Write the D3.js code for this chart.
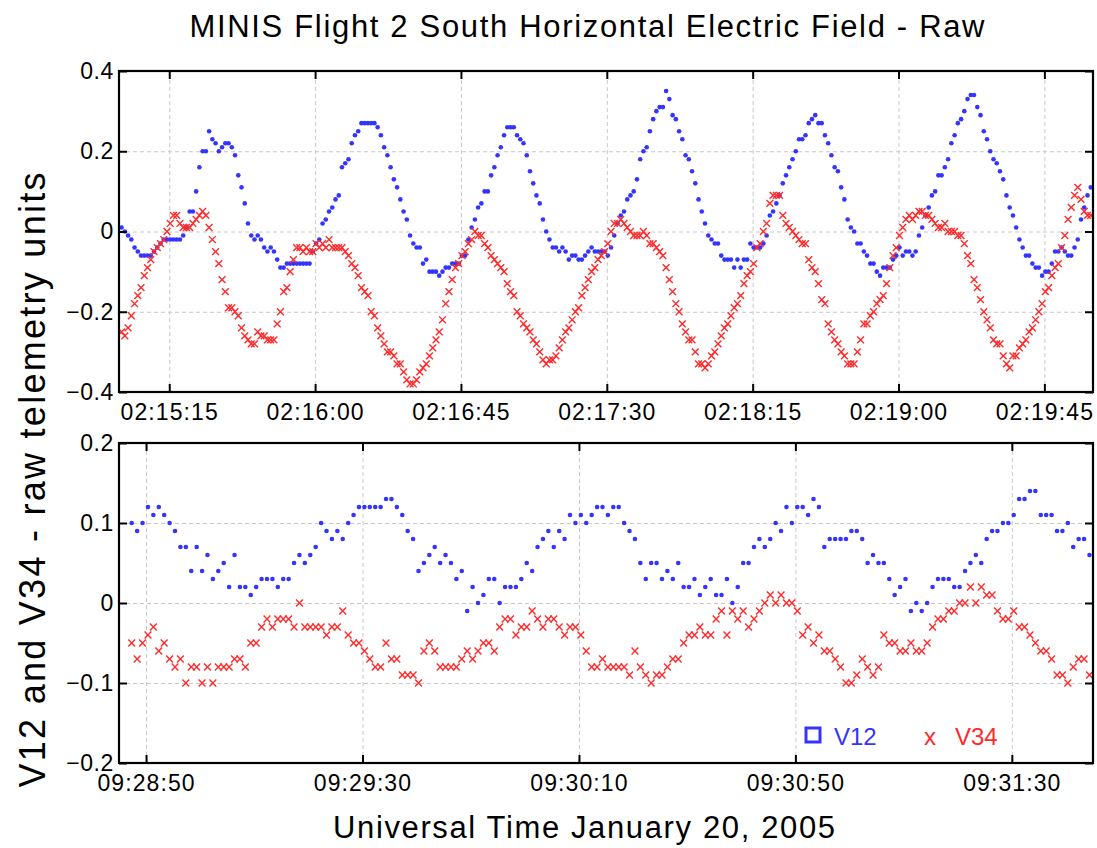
<!DOCTYPE html>
<html>
<head>
<meta charset="utf-8">
<script src="https://cdn.jsdelivr.net/npm/d3@7"></script>
<style>
  body { margin: 0; background: #fff; }
  text { font-family: "Liberation Sans", Arial, Helvetica, sans-serif; }
</style>
</head>
<body>
<div id="chart"></div>
<script>
// ---- data (raw telemetry units), one sample per second ----
const topV12 = [
  0.01,0,-0.01,-0.02,-0.04,-0.05,-0.06,-0.06,-0.06,-0.06,-0.05,-0.04,-0.03,-0.02,-0.02,-0.02,-0.02,-0.02,-0.02,-0.01,
  0.01,0.05,0.05,0.10,0.16,0.20,0.20,0.25,0.23,0.22,0.20,0.21,0.22,0.22,0.21,0.19,0.14,0.11,0.07,0.02,
  -0.01,-0.02,-0.01,-0.02,-0.04,-0.05,-0.04,-0.05,-0.07,-0.09,-0.09,-0.08,-0.08,-0.08,-0.08,-0.08,-0.08,-0.08,-0.08,-0.05,
  -0.03,-0.02,0.02,0.03,0.05,0.06,0.08,0.09,0.16,0.17,0.18,0.22,0.24,0.25,0.27,0.27,0.27,0.27,0.27,0.26,
  0.24,0.21,0.19,0.16,0.13,0.11,0.08,0.05,0.03,-0.01,-0.03,-0.04,-0.04,-0.08,-0.07,-0.10,-0.10,-0.10,-0.11,-0.10,
  -0.09,-0.09,-0.08,-0.08,-0.08,-0.06,-0.06,-0.02,0.01,0.03,0.06,0.07,0.10,0.10,0.14,0.16,0.19,0.21,0.24,0.26,
  0.26,0.26,0.24,0.23,0.22,0.19,0.15,0.12,0.09,0.07,0.03,0,-0.02,-0.04,-0.04,-0.05,-0.04,-0.05,-0.07,-0.06,
  -0.06,-0.07,-0.07,-0.06,-0.05,-0.04,-0.05,-0.05,-0.05,-0.05,-0.06,-0.04,-0.01,0.02,0.04,0.05,0.08,0.09,0.10,0.13,
  0.18,0.20,0.21,0.25,0.28,0.30,0.31,0.31,0.35,0.33,0.29,0.28,0.25,0.23,0.19,0.18,0.15,0.12,0.08,0.05,
  0.02,-0.01,-0.02,-0.03,-0.03,-0.06,-0.07,-0.07,-0.07,-0.09,-0.07,-0.09,-0.07,-0.07,-0.03,-0.04,-0.04,-0.04,-0.03,-0.01,
  0.04,0.05,0.07,0.09,0.12,0.14,0.16,0.18,0.20,0.23,0.23,0.24,0.27,0.28,0.29,0.27,0.27,0.24,0.22,0.19,
  0.16,0.15,0.11,0.08,0.03,0.01,0,-0.03,-0.03,-0.05,-0.06,-0.08,-0.08,-0.10,-0.11,-0.09,-0.09,-0.09,-0.07,-0.06,
  -0.04,-0.06,-0.05,-0.05,-0.06,-0.05,-0.01,0.01,0.04,0.06,0.09,0.10,0.14,0.14,0.16,0.18,0.22,0.24,0.27,0.28,
  0.30,0.33,0.34,0.34,0.31,0.29,0.25,0.23,0.20,0.18,0.17,0.15,0.13,0.09,0.06,0.04,0.01,-0.02,-0.04,-0.06,
  -0.06,-0.08,-0.09,-0.09,-0.11,-0.10,-0.10,-0.08,-0.05,-0.05,-0.04,-0.05,-0.06,-0.06,-0.04,-0.02,0.03,0.06,0.09,0.11
];
const topV34 = [
  -0.25,-0.26,-0.24,-0.21,-0.18,-0.16,-0.14,-0.11,-0.09,-0.07,-0.05,-0.04,-0.03,-0.02,0,0.02,0.04,0.04,0.02,0.01,
  0.01,0.01,0.02,0.03,0.04,0.05,0.04,0.01,-0.02,-0.05,-0.08,-0.12,-0.15,-0.19,-0.19,-0.20,-0.21,-0.24,-0.26,-0.27,
  -0.28,-0.28,-0.25,-0.26,-0.26,-0.27,-0.27,-0.27,-0.23,-0.20,-0.15,-0.14,-0.10,-0.07,-0.04,-0.04,-0.05,-0.04,-0.05,-0.05,
  -0.03,-0.04,-0.03,-0.04,-0.02,-0.04,-0.04,-0.04,-0.04,-0.05,-0.06,-0.08,-0.09,-0.11,-0.14,-0.15,-0.16,-0.20,-0.21,-0.24,
  -0.26,-0.28,-0.30,-0.30,-0.31,-0.33,-0.33,-0.35,-0.37,-0.38,-0.38,-0.37,-0.35,-0.34,-0.33,-0.31,-0.29,-0.27,-0.25,-0.22,
  -0.18,-0.15,-0.12,-0.09,-0.08,-0.06,-0.05,-0.03,-0.02,0,-0.01,-0.01,-0.03,-0.04,-0.06,-0.07,-0.08,-0.09,-0.10,-0.13,
  -0.15,-0.16,-0.20,-0.21,-0.23,-0.24,-0.25,-0.27,-0.28,-0.30,-0.32,-0.33,-0.32,-0.32,-0.31,-0.29,-0.27,-0.25,-0.24,-0.22,
  -0.20,-0.19,-0.16,-0.14,-0.12,-0.10,-0.09,-0.07,-0.06,-0.05,-0.03,0,0.02,0.02,0.03,0.02,0.01,0,-0.01,-0.01,
  -0.01,0,-0.01,-0.03,-0.03,-0.04,-0.05,-0.06,-0.09,-0.12,-0.15,-0.18,-0.20,-0.23,-0.25,-0.27,-0.27,-0.30,-0.33,-0.33,
  -0.34,-0.33,-0.31,-0.30,-0.28,-0.26,-0.24,-0.23,-0.21,-0.19,-0.18,-0.16,-0.13,-0.11,-0.10,-0.08,-0.04,-0.03,0,0.02,
  0.07,0.09,0.09,0.09,0.04,0.02,0.01,0,-0.01,-0.02,-0.03,-0.03,-0.07,-0.09,-0.10,-0.13,-0.17,-0.18,-0.23,-0.25,
  -0.27,-0.28,-0.30,-0.31,-0.33,-0.33,-0.33,-0.30,-0.27,-0.23,-0.23,-0.21,-0.20,-0.18,-0.17,-0.16,-0.13,-0.09,-0.06,-0.04,
  -0.01,0.01,0.03,0.04,0.03,0.04,0.05,0.05,0.04,0.04,0.03,0.02,0.01,0.01,0.02,0,0,0,-0.01,-0.01,
  -0.03,-0.06,-0.08,-0.12,-0.14,-0.17,-0.20,-0.22,-0.24,-0.27,-0.28,-0.28,-0.31,-0.33,-0.34,-0.31,-0.31,-0.29,-0.28,-0.27,
  -0.25,-0.24,-0.22,-0.20,-0.18,-0.15,-0.14,-0.11,-0.09,-0.08,-0.04,-0.01,0.03,0.06,0.09,0.11,0.08,0.05,0.04,0.04
];
const bottomV12 = [
  0.10,0.09,0.10,0.12,0.11,0.12,0.11,0.10,0.09,0.07,0.07,0.04,0.07,0.04,0.06,0.03,0.04,0.05,0.02,0.06,
  0.02,0.02,0.01,0.02,0.03,0.03,0.03,0.02,0.03,0.03,0.05,0.06,0.05,0.06,0.07,0.10,0.09,0.08,0.09,0.08,
  0.10,0.11,0.12,0.12,0.12,0.12,0.12,0.13,0.13,0.12,0.11,0.09,0.08,0.04,0.05,0.06,0.07,0.05,0.06,0.05,
  0.03,0.04,-0.01,0.02,0,0.01,0.03,0.03,0,0.02,0.02,0.02,0.03,0.05,0.04,0.07,0.08,0.09,0.07,0.09,
  0.08,0.11,0.10,0.11,0.10,0.11,0.12,0.12,
  0.11,0.12,0.12,0.10,0.09,0.08,0.05,0.03,0.05,0.05,0.03,0.04,0.03,0.05,0.02,0.02,0.03,0.01,0.02,0.03,
  0.01,0.01,0.03,0,0.02,0.05,0.05,0.07,0.08,0.07,0.08,0.10,0.09,0.12,0.10,0.12,0.12,0.11,0.13,0.12,
  0.07,0.08,0.08,0.08,0.08,0.09,0.09,0.08,0.05,0.06,0.05,0.05,0.03,0.01,0.02,0.03,-0.01,0,-0.01,0,
  0.02,0.03,0.03,0.03,0.02,0.02,0.04,0.05,0.06,0.05,0.08,0.09,0.09,0.10,0.10,0.11,0.13,0.13,0.14,0.14,
  0.11,0.11,0.11,0.09,0.09,0.10,0.07,0.08,0.08,0.06
];
const bottomV34 = [
  -0.05,-0.07,-0.05,-0.04,-0.03,-0.06,-0.05,-0.07,-0.08,-0.07,-0.10,-0.08,-0.08,-0.10,-0.08,-0.10,-0.08,-0.08,-0.08,-0.07,
  -0.07,-0.08,-0.05,-0.05,-0.03,-0.02,-0.03,-0.02,-0.02,-0.02,-0.03,0,-0.03,-0.03,-0.03,-0.03,-0.04,-0.03,-0.03,-0.01,
  -0.04,-0.05,-0.05,-0.06,-0.07,-0.08,-0.08,-0.05,-0.07,-0.07,-0.09,-0.09,-0.09,-0.10,-0.06,-0.05,-0.06,-0.08,-0.08,-0.08,
  -0.08,-0.07,-0.06,-0.07,-0.06,-0.05,-0.05,-0.06,-0.03,-0.02,-0.02,-0.04,-0.03,-0.03,-0.01,-0.02,-0.03,-0.02,-0.02,-0.03,
  -0.04,-0.03,-0.03,-0.04,-0.06,-0.08,-0.08,-0.07,
  -0.08,-0.08,-0.08,-0.08,-0.09,-0.06,-0.08,-0.09,-0.10,-0.09,-0.09,-0.08,-0.07,-0.07,-0.05,-0.04,-0.04,-0.03,-0.04,-0.04,
  -0.02,-0.01,-0.04,-0.01,-0.02,-0.01,-0.03,-0.02,-0.01,0,0.01,0,0.01,0,0,-0.01,-0.04,-0.03,-0.05,-0.04,
  -0.06,-0.06,-0.07,-0.08,-0.10,-0.10,-0.09,-0.07,-0.08,-0.09,-0.08,-0.04,-0.05,-0.05,-0.06,-0.06,-0.05,-0.06,-0.06,-0.05,
  -0.03,-0.02,-0.02,-0.01,-0.01,0,0,0.02,0,0.02,0.01,0.01,-0.01,-0.02,-0.02,-0.01,-0.03,-0.03,-0.04,-0.05,
  -0.06,-0.06,-0.07,-0.09,-0.09,-0.10,-0.08,-0.07,-0.07,-0.09
];

// first sample time of each pass, sampling step, axis ranges and tick labels
const topFirstSample = "02:15:00.300";
const bottomFirstSample = "09:28:47.350";
const sampleStepMs = 1000;
const topTimeRange = ["02:14:59.500", "02:20:00.000"];
const bottomTimeRange = ["09:28:45.000", "09:31:45.000"];
const topTimeTicks = ["02:15:15", "02:16:00", "02:16:45", "02:17:30", "02:18:15", "02:19:00", "02:19:45"];
const bottomTimeTicks = ["09:28:50", "09:29:30", "09:30:10", "09:30:50", "09:31:30"];
const topValueTicks = [-0.4, -0.2, 0, 0.2, 0.4];
const bottomValueTicks = [-0.2, -0.1, 0, 0.1, 0.2];

const W = 1097, H = 848;
const blue = "#3434ff";
const red = "#ff2a2a";

const parseMs = d3.utcParse("%H:%M:%S.%L");
const parseS = d3.utcParse("%H:%M:%S");

const svg = d3.select("#chart")
  .append("svg")
  .attr("width", W)
  .attr("height", H);

function drawPanel(id, box, firstSample, timeRange, timeTicks, valueTicks, v12, v34) {
  const x = d3.scaleUtc()
    .domain(timeRange.map(parseMs))
    .range([box.left, box.right]);
  const y = d3.scaleLinear()
    .domain([valueTicks[0], valueTicks[valueTicks.length - 1]])
    .range([box.bottom, box.top]);

  const t0 = +parseMs(firstSample);
  const timeOf = i => new Date(t0 + i * sampleStepMs);
  const tickDates = timeTicks.map(parseS);
  const ih = box.bottom - box.top;
  const iw = box.right - box.left;

  const g = svg.append("g");

  // dashed grid
  g.append("g")
    .attr("transform", `translate(0,${box.bottom})`)
    .call(d3.axisBottom(x).tickValues(tickDates).tickSize(-ih).tickFormat(""))
    .call(s => s.select(".domain").remove())
    .selectAll("line")
    .attr("stroke", "#c8c8c8")
    .attr("stroke-dasharray", "4,3");
  g.append("g")
    .attr("transform", `translate(${box.left},0)`)
    .call(d3.axisLeft(y).tickValues(valueTicks).tickSize(-iw).tickFormat(""))
    .call(s => s.select(".domain").remove())
    .selectAll("line")
    .attr("stroke", "#c8c8c8")
    .attr("stroke-dasharray", "4,3");

  // clip for the markers
  svg.append("clipPath").attr("id", id)
    .append("rect")
    .attr("x", box.left).attr("y", box.top)
    .attr("width", iw).attr("height", ih);

  const marks = g.append("g").attr("clip-path", `url(#${id})`);

  // V12 dots
  marks.selectAll("circle")
    .data(v12)
    .join("circle")
    .attr("cx", (d, i) => x(timeOf(i)))
    .attr("cy", d => y(d))
    .attr("r", 2.3)
    .attr("fill", blue);

  // V34 crosses
  marks.selectAll("path.x34")
    .data(v34)
    .join("path")
    .attr("class", "x34")
    .attr("transform", (d, i) => `translate(${x(timeOf(i))},${y(d)})`)
    .attr("d", "M-3.4,-3.4L3.4,3.4M-3.4,3.4L3.4,-3.4")
    .attr("stroke", red)
    .attr("stroke-width", 1.4)
    .attr("fill", "none");

  // ticks on all four sides, pointing in
  const tickStyle = s => {
    s.select(".domain").remove();
    s.selectAll("line").attr("stroke", "#000").attr("stroke-width", 2);
  };
  g.append("g")
    .attr("transform", `translate(0,${box.bottom})`)
    .call(d3.axisBottom(x).tickValues(tickDates).tickSize(-8).tickPadding(12)
      .tickFormat(d3.utcFormat("%H:%M:%S")))
    .call(tickStyle)
    .selectAll("text")
    .attr("fill", "#000")
    .style("font-size", "23px")
    .style("letter-spacing", "1.1px");
  g.append("g")
    .attr("transform", `translate(0,${box.top})`)
    .call(d3.axisTop(x).tickValues(tickDates).tickSize(-8).tickFormat(""))
    .call(tickStyle);
  g.append("g")
    .attr("transform", `translate(${box.left},0)`)
    .call(d3.axisLeft(y).tickValues(valueTicks).tickSize(-8).tickPadding(5)
      .tickFormat(d => d === 0 ? "0" : d3.format(".1f")(d)))
    .call(tickStyle)
    .selectAll("text")
    .attr("fill", "#000")
    .style("font-size", "23px")
    .style("letter-spacing", "0.6px");
  g.append("g")
    .attr("transform", `translate(${box.right},0)`)
    .call(d3.axisRight(y).tickValues(valueTicks).tickSize(-8).tickFormat(""))
    .call(tickStyle);

  // frame
  g.append("rect")
    .attr("x", box.left).attr("y", box.top)
    .attr("width", iw).attr("height", ih)
    .attr("fill", "none")
    .attr("stroke", "#000")
    .attr("stroke-width", 2.2);

  return { x, y, g };
}

drawPanel("clipTop", { left: 119, right: 1093, top: 71, bottom: 392 },
  topFirstSample, topTimeRange, topTimeTicks, topValueTicks, topV12, topV34);

drawPanel("clipBottom", { left: 119, right: 1093, top: 443, bottom: 763 },
  bottomFirstSample, bottomTimeRange, bottomTimeTicks, bottomValueTicks, bottomV12, bottomV34);

// Title
svg.append("text")
  .attr("x", 587)
  .attr("y", 37)
  .attr("text-anchor", "middle")
  .attr("textLength", 795)
  .attr("lengthAdjust", "spacing")
  .style("font-size", "31px")
  .text("MINIS Flight 2 South Horizontal Electric Field - Raw");

// X axis label
svg.append("text")
  .attr("x", 584)
  .attr("y", 838)
  .attr("text-anchor", "middle")
  .attr("textLength", 502)
  .attr("lengthAdjust", "spacing")
  .style("font-size", "31px")
  .text("Universal Time January 20, 2005");

// Y axis label
svg.append("text")
  .attr("transform", "translate(45,480) rotate(-90)")
  .attr("text-anchor", "middle")
  .attr("textLength", 615)
  .attr("lengthAdjust", "spacing")
  .style("font-size", "36px")
  .text("V12 and V34 - raw telemetry units");

// Legend
const legend = svg.append("g");
legend.append("rect")
  .attr("x", 806).attr("y", 728)
  .attr("width", 14).attr("height", 14)
  .attr("fill", "none")
  .attr("stroke", blue)
  .attr("stroke-width", 3);
legend.append("text")
  .attr("x", 834).attr("y", 745)
  .attr("fill", blue)
  .style("font-size", "24px")
  .text("V12");
legend.append("text")
  .attr("x", 924).attr("y", 745)
  .attr("fill", red)
  .style("font-size", "24px")
  .text("x");
legend.append("text")
  .attr("x", 955).attr("y", 745)
  .attr("fill", red)
  .style("font-size", "24px")
  .text("V34");
</script>
</body>
</html>
